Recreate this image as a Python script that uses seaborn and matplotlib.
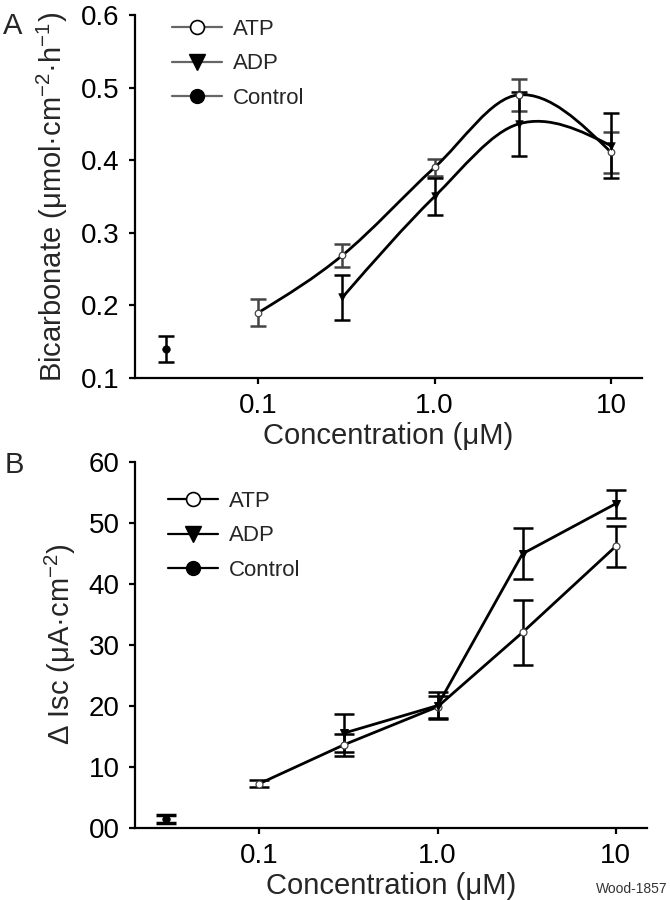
import numpy as np
import matplotlib
matplotlib.use("Agg")
import matplotlib.pyplot as plt
from matplotlib.path import Path
from matplotlib.patches import PathPatch
from matplotlib.lines import Line2D
import seaborn as sns

# concentrations (uM)
conc_atp = [0.1, 0.3, 1.0, 3.0, 10.0]
conc_adp = [0.3, 1.0, 3.0, 10.0]
conc_ctrl = [0.03]

# panel A: bicarbonate secretion
bic_atp = [0.190, 0.269, 0.390, 0.490, 0.411]
bic_atp_err = [0.019, 0.016, 0.012, 0.022, 0.028]
bic_adp = [0.211, 0.350, 0.450, 0.420]
bic_adp_err = [0.031, 0.026, 0.044, 0.045]
bic_ctrl = [0.140]
bic_ctrl_err = [0.018]

# panel B: delta Isc
isc_atp = [7.2, 13.6, 19.8, 32.0, 46.1]
isc_atp_err = [0.6, 1.8, 1.8, 5.3, 3.4]
isc_adp = [15.5, 20.0, 44.9, 53.1]
isc_adp_err = [3.1, 2.2, 4.2, 2.3]
isc_ctrl = [1.4]
isc_ctrl_err = [0.6]

x_ticks = [0.1, 1.0, 10.0]
x_ticklabels = ["0.1", "1.0", "10"]
a_ticks = [0.1, 0.2, 0.3, 0.4, 0.5, 0.6]
a_ticklabels = ["0.1", "0.2", "0.3", "0.4", "0.5", "0.6"]
b_ticks = [0, 10, 20, 30, 40, 50, 60]
b_ticklabels = ["00", "10", "20", "30", "40", "50", "60"]

sns.set_theme(style="ticks")
plt.rcParams["font.family"] = ["Liberation Sans", "DejaVu Sans"]
plt.rcParams["mathtext.fontset"] = "custom"
plt.rcParams["mathtext.rm"] = "Liberation Sans"

W, H = 670, 900


def smooth_path(xs, ys):
    # hermite/bezier curve through the points, in log-x space
    lx = np.log10(np.asarray(xs, dtype=float))
    y = np.asarray(ys, dtype=float)
    n = len(lx)
    m = np.zeros(n)
    for i in range(1, n - 1):
        m[i] = (y[i + 1] - y[i - 1]) / (lx[i + 1] - lx[i - 1])
    m[0] = (3 * (y[1] - y[0]) / (lx[1] - lx[0]) - m[1]) / 2
    m[-1] = (3 * (y[-1] - y[-2]) / (lx[-1] - lx[-2]) - m[-2]) / 2
    verts = [(xs[0], ys[0])]
    codes = [Path.MOVETO]
    for i in range(n - 1):
        h = lx[i + 1] - lx[i]
        verts.append((10 ** (lx[i] + h / 3), y[i] + m[i] * h / 3))
        verts.append((10 ** (lx[i + 1] - h / 3), y[i + 1] - m[i + 1] * h / 3))
        verts.append((xs[i + 1], ys[i + 1]))
        codes += [Path.CURVE4] * 3
    return Path(verts, codes)


def style_axis(ax, ticks, labels, ylim):
    ax.set_xscale("log")
    ax.set_xlim(0.02, 15)
    ax.set_ylim(*ylim)
    ax.set_xticks(x_ticks)
    ax.set_xticklabels(x_ticklabels)
    ax.xaxis.set_minor_locator(matplotlib.ticker.NullLocator())
    ax.set_yticks(ticks)
    ax.set_yticklabels(labels)
    for s in ["top", "right"]:
        ax.spines[s].set_visible(False)
    for s in ["left", "bottom"]:
        ax.spines[s].set_linewidth(1.6)
        ax.spines[s].set_color("black")
    ax.tick_params(axis="both", labelsize=20, length=4, width=1.6, pad=7, colors="black")
    ax.set_xlabel("Concentration (\u03bcM)", fontsize=21, labelpad=2)
    ax.set_facecolor("white")


def add_legend(ax, fig, left_px, top_px, line_col):
    handles = [
        Line2D([], [], color=line_col, lw=1.6, marker="o", markersize=10,
               markerfacecolor="white", markeredgecolor="black", markeredgewidth=1.2),
        Line2D([], [], color=line_col, lw=1.6, marker="v", markersize=11,
               markerfacecolor="black", markeredgecolor="black"),
        Line2D([], [], color=line_col, lw=1.6, marker="o", markersize=10,
               markerfacecolor="black", markeredgecolor="black"),
    ]
    ax.legend(handles, ["ATP", "ADP", "Control"], loc="upper left",
              bbox_to_anchor=(left_px / W, 1 - top_px / H),
              bbox_transform=fig.transFigure, frameon=False, fontsize=16,
              handlelength=2.25, handletextpad=0.5, labelspacing=0.6,
              borderpad=0, borderaxespad=0)


fig = plt.figure(figsize=(6.7, 9), dpi=100)
fig.patch.set_facecolor("white")
axA = fig.add_axes([135 / W, 1 - 378 / H, (642 - 135) / W, (378 - 15) / H])
axB = fig.add_axes([135 / W, 1 - 827.5 / H, (647 - 135) / W, (827.5 - 461.7) / H])

# ---- panel A ----
axA.errorbar(conc_atp, bic_atp, yerr=bic_atp_err, fmt="none", ecolor="#444444",
             elinewidth=1.8, capsize=6, capthick=1.8, zorder=2)
axA.errorbar(conc_adp, bic_adp, yerr=bic_adp_err, fmt="none", ecolor="black",
             elinewidth=1.8, capsize=6, capthick=1.8, zorder=2)
axA.errorbar(conc_ctrl, bic_ctrl, yerr=bic_ctrl_err, fmt="none", ecolor="black",
             elinewidth=1.8, capsize=6, capthick=1.8, zorder=2)
for xs, ys in [(conc_atp, bic_atp), (conc_adp, bic_adp)]:
    axA.add_patch(PathPatch(smooth_path(xs, ys), facecolor="none", edgecolor="black",
                            lw=2.0, zorder=3))
sns.scatterplot(x=conc_atp, y=bic_atp, ax=axA, marker="o", s=22, color="white",
                edgecolor="#444444", linewidth=0.9, zorder=4)
sns.scatterplot(x=conc_adp, y=bic_adp, ax=axA, marker="v", s=30, color="black",
                edgecolor="black", zorder=4)
sns.scatterplot(x=conc_ctrl, y=bic_ctrl, ax=axA, marker="o", s=30, color="black",
                edgecolor="black", zorder=4)
style_axis(axA, a_ticks, a_ticklabels, (0.1, 0.6))
axA.set_ylabel("Bicarbonate (\u03bcmol\u00b7cm$^{-2}$\u00b7h$^{-1}$)", fontsize=21, labelpad=8)
add_legend(axA, fig, 172, 19, "#666666")

# ---- panel B ----
axB.errorbar(conc_atp, isc_atp, yerr=isc_atp_err, fmt="none", ecolor="black",
             elinewidth=1.8, capsize=7, capthick=1.8, zorder=2)
axB.errorbar(conc_adp, isc_adp, yerr=isc_adp_err, fmt="none", ecolor="black",
             elinewidth=1.8, capsize=7, capthick=1.8, zorder=2)
axB.errorbar(conc_ctrl, isc_ctrl, yerr=isc_ctrl_err, fmt="none", ecolor="black",
             elinewidth=2.5, capsize=7, capthick=2.5, zorder=2)
sns.lineplot(x=conc_atp, y=isc_atp, ax=axB, color="black", lw=2.0, marker="o",
             markersize=5, markerfacecolor="white", markeredgecolor="#444444",
             markeredgewidth=0.9, zorder=3)
sns.lineplot(x=conc_adp, y=isc_adp, ax=axB, color="black", lw=2.0, marker="v",
             markersize=6, markerfacecolor="black", markeredgecolor="black", zorder=3)
sns.scatterplot(x=conc_ctrl, y=isc_ctrl, ax=axB, marker="o", s=30, color="black",
                edgecolor="black", zorder=4)
style_axis(axB, b_ticks, b_ticklabels, (0, 60))
axB.set_ylabel("\u0394 Isc (\u03bcA\u00b7cm$^{-2}$)", fontsize=21, labelpad=8)
add_legend(axB, fig, 168, 491, "black")

# panel letters and footer
fig.text(3 / W, 1 - 12 / H, "A", fontsize=21, ha="left", va="top")
fig.text(5 / W, 1 - 451 / H, "B", fontsize=21, ha="left", va="top")
fig.text(668 / W, 1 - 893 / H, "Wood-1857", fontsize=10, ha="right", va="baseline",
         color="#333333")

fig.savefig("out.png", dpi=100, facecolor="white")
